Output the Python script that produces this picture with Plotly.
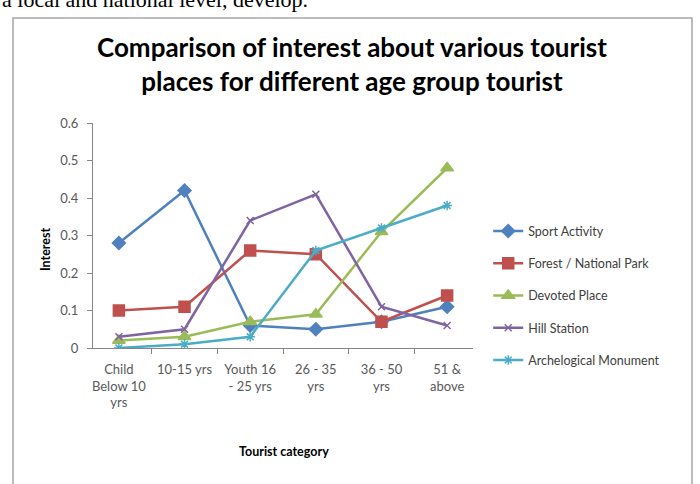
import plotly.graph_objects as go

categories = ["Child<br>Below 10<br>yrs", "10-15 yrs", "Youth 16<br>- 25 yrs", "26 - 35<br>yrs", "36 - 50<br>yrs", "51 &<br>above"]
sport_activity = [0.28, 0.42, 0.06, 0.05, 0.07, 0.11]
forest_national_park = [0.10, 0.11, 0.26, 0.25, 0.07, 0.14]
devoted_place = [0.02, 0.03, 0.07, 0.09, 0.31, 0.48]
hill_station = [0.03, 0.05, 0.34, 0.41, 0.11, 0.06]
archelogical_monument = [0.00, 0.01, 0.03, 0.26, 0.32, 0.38]

series = [
    ("Sport Activity", sport_activity, "#4F81BD", "diamond", 10),
    ("Forest / National Park", forest_national_park, "#C0504D", "square", 11),
    ("Devoted Place", devoted_place, "#9BBB59", "triangle-up", 11),
    ("Hill Station", hill_station, "#8064A2", "x-thin-open", 7),
    ("Archelogical Monument", archelogical_monument, "#4BACC6", "asterisk-open", 8),
]

FONT = "Lato, 'Open Sans', sans-serif"

fig = go.Figure()
for name, vals, color, sym, sz in series:
    fig.add_trace(go.Scatter(
        x=categories, y=vals, name=name, mode="lines+markers",
        legendgroup=name,
        line=dict(color=color, width=2.5),
        marker=dict(symbol=sym, size=sz, color=color, line=dict(color=color, width=1.5)),
    ))

fig.update_layout(
    width=700, height=484,
    margin=dict(l=93, r=227, t=123, b=136),
    paper_bgcolor="white", plot_bgcolor="white",
    font=dict(family=FONT, size=13, color="#595959"),
    showlegend=True,
    legend=dict(x=1.04, y=0.585, xanchor="left", yanchor="top",
                font=dict(family=FONT, size=12.5, color="#404040"),
                tracegroupgap=13, bgcolor="rgba(0,0,0,0)"),
    xaxis=dict(type="category", showgrid=False, showline=True, linecolor="#868686",
               ticks="outside", ticklen=5, tickcolor="#868686", tickson="boundaries",
               ticklabelstandoff=9, tickangle=0,
               tickfont=dict(size=13, color="#595959"), fixedrange=True),
    yaxis=dict(range=[0, 0.6], dtick=0.1, showgrid=False, showline=True, linecolor="#868686",
               ticks="outside", ticklen=5, tickcolor="#868686", zeroline=False,
               ticklabelstandoff=6,
               tickfont=dict(size=13, color="#595959")),
)

fig.add_annotation(text="<b>Comparison of interest about various tourist<br>places for different age group tourist</b>",
                   xref="paper", yref="paper", x=(352 - 93) / 380, y=(348 - 64) / 225, xanchor="center", yanchor="middle",
                   showarrow=False, font=dict(family=FONT, size=26, color="#000000"))
fig.add_annotation(text="<b>Interest</b>", xref="paper", yref="paper",
                   x=(45 - 93) / 380, y=(348 - 250) / 225, textangle=-90, showarrow=False,
                   xanchor="center", yanchor="middle", font=dict(family=FONT, size=12.5, color="#000000"))
fig.add_annotation(text="<b>Tourist category</b>", xref="paper", yref="paper",
                   x=(284 - 93) / 380, y=(348 - 452) / 225, showarrow=False,
                   xanchor="center", yanchor="middle", font=dict(family=FONT, size=12.5, color="#000000"))
fig.add_annotation(text="a local and national level, develop.", xref="paper", yref="paper",
                   x=(0 - 93) / 380, y=(348 + 1) / 225, xanchor="left", yanchor="middle", showarrow=False,
                   font=dict(family="'Liberation Serif', serif", size=22, color="#000000"))
fig.add_shape(type="rect", xref="paper", yref="paper",
              x0=(13 - 93) / 380, x1=(692 - 93) / 380, y0=(348 - 520) / 225, y1=(348 - 18) / 225,
              line=dict(color="#a6a6a6", width=1.5), layer="below")

fig.write_html("out.html")
